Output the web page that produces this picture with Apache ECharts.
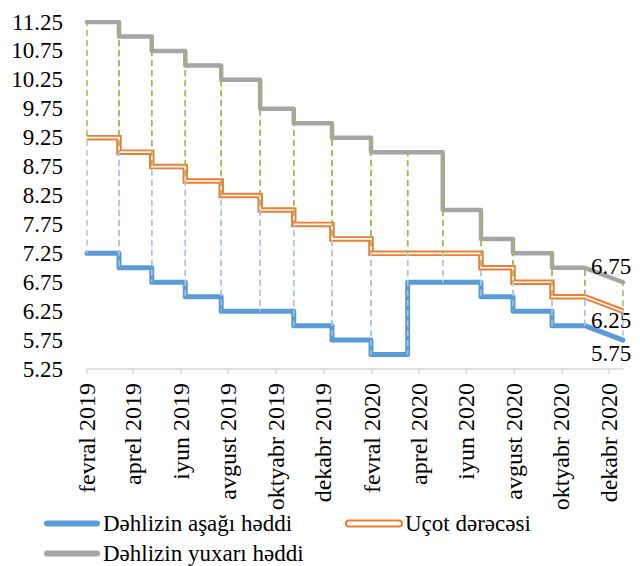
<!DOCTYPE html>
<html>
<head>
<meta charset="utf-8">
<script src="https://cdn.jsdelivr.net/npm/echarts@6/dist/echarts.min.js"></script>
<style>
  html, body { margin: 0; padding: 0; background: #fff; }
  #chart { width: 640px; height: 566px; }
</style>
</head>
<body>
<div id="chart"></div>
<script>
// Decision dates and corridor / policy rate values (%)
const decisionDates = ['2019-02-01', '2019-03-14', '2019-04-25', '2019-06-07', '2019-07-23', '2019-09-11',
  '2019-10-24', '2019-12-12', '2020-01-31', '2020-03-18', '2020-05-02', '2020-06-20', '2020-07-31',
  '2020-09-19', '2020-10-31', '2020-12-19'];
const upperBound = [11.25, 11.0, 10.75, 10.5, 10.25, 9.75, 9.5, 9.25, 9.0, 9.0, 8.0, 7.5, 7.25, 7.0, 7.0, 6.75];
const policyRate = [9.25, 9.0, 8.75, 8.5, 8.25, 8.0, 7.75, 7.5, 7.25, 7.25, 7.25, 7.0, 6.75, 6.5, 6.5, 6.25];
const lowerBound = [7.25, 7.0, 6.75, 6.5, 6.25, 6.25, 6.0, 5.75, 5.5, 6.75, 6.75, 6.5, 6.25, 6.0, 6.0, 5.75];

const seriesNames = ['Dəhlizin aşağı həddi', 'Uçot dərəcəsi', 'Dəhlizin yuxarı həddi'];

// X axis tick marks (every two months) and their labels
const xTickDates = ['2019-02-01', '2019-04-01', '2019-06-01', '2019-08-01', '2019-10-01', '2019-12-01',
  '2020-02-01', '2020-04-01', '2020-06-01', '2020-08-01', '2020-10-01', '2020-12-01'];
const xTickLabels = ['fevral 2019', 'aprel 2019', 'iyun 2019', 'avgust 2019', 'oktyabr 2019', 'dekabr 2019',
  'fevral 2020', 'aprel 2020', 'iyun 2020', 'avgust 2020', 'oktyabr 2020', 'dekabr 2020'];
// Y axis labels
const yTickValues = [5.25, 5.75, 6.25, 6.75, 7.25, 7.75, 8.25, 8.75, 9.25, 9.75, 10.25, 10.75, 11.25];

const FONT = 'Liberation Serif';
const BLUE = '#5B9BD5', ORANGE = '#ED7D31', GRAY = '#A5A5A5';

function parseDay(s) {
  const p = s.split('-').map(Number);
  return Date.UTC(p[0], p[1] - 1, p[2]);
}
const times = decisionDates.map(parseDay);
const tickTimes = xTickDates.map(parseDay);
const labelByTime = {};
tickTimes.forEach((t, i) => { labelByTime[t] = xTickLabels[i]; });

// Each decision holds the previous level until its date, then switches;
// the final point is joined directly to the one before it.
function stepIndexPairs() {
  const pairs = [];
  const n = times.length;
  for (let i = 0; i < n; i++) {
    if (i > 0 && i < n - 1) pairs.push([i, i - 1]);
    pairs.push([i, i]);
  }
  return pairs;
}
const pairs = stepIndexPairs();
const stepLine = vals => pairs.map(([ti, vi]) => [times[ti], vals[vi]]);
const dropData = pairs.map(([ti, vi]) => [times[ti], upperBound[vi], policyRate[vi], lowerBound[vi]]);

const chart = echarts.init(document.getElementById('chart'), null, { renderer: 'svg' });

const DASH = [6, 4];
const DASH_PERIOD = DASH[0] + DASH[1];

// Legend block under the axis: swatch + serif caption per series
function legendEntry(x, y, name, swatchStyle) {
  return {
    type: 'group', left: x, top: y,
    children: [
      { type: 'rect', shape: { x: 0, y: 8, width: 56, height: 6, r: 3 }, style: swatchStyle },
      { type: 'text', x: 59, y: 11, style: { text: name, fontFamily: FONT, fontSize: 23, fill: '#000', verticalAlign: 'middle' } }
    ]
  };
}

const option = {
  animation: false,
  grid: { left: 87, right: 17, top: 22, height: 347, containLabel: false },
  graphic: [
    legendEntry(44, 512, seriesNames[0], { fill: BLUE }),
    legendEntry(345, 512, seriesNames[1], { fill: '#fff', stroke: ORANGE, lineWidth: 2 }),
    legendEntry(44, 542, seriesNames[2], { fill: GRAY })
  ],
  xAxis: {
    type: 'value',
    min: times[0],
    max: times[times.length - 1],
    axisLine: { show: true, lineStyle: { color: '#D9D9D9', width: 1.5 } },
    axisTick: { show: true, length: 5, customValues: tickTimes, lineStyle: { color: '#D9D9D9', width: 1.5 } },
    axisLabel: {
      customValues: tickTimes,
      rotate: 90,
      margin: 14,
      fontFamily: FONT,
      fontSize: 24,
      color: '#000',
      formatter: v => labelByTime[v] || ''
    },
    splitLine: { show: false }
  },
  yAxis: {
    type: 'value',
    min: 5.25,
    max: 11.25,
    interval: 0.25,
    axisLine: { show: false },
    axisTick: { show: false },
    splitLine: { show: false },
    axisLabel: {
      margin: 24,
      fontFamily: FONT,
      fontSize: 23,
      color: '#000',
      formatter: v => yTickValues.some(t => Math.abs(t - v) < 1e-6) ? v.toFixed(2) : ''
    }
  },
  series: [
    {
      name: seriesNames[2],
      type: 'line',
      data: stepLine(upperBound),
      showSymbol: false,
      itemStyle: { color: GRAY },
      lineStyle: { color: GRAY, width: 4.5, join: 'round', cap: 'round' },
      endLabel: {
        show: true, offset: [-40, -16],
        fontFamily: FONT, fontSize: 23, color: '#000',
        formatter: p => p.value[1].toFixed(2)
      },
      z: 2
    },
    {
      name: seriesNames[1],
      type: 'line',
      data: stepLine(policyRate),
      showSymbol: false,
      itemStyle: { color: ORANGE },
      lineStyle: { color: ORANGE, width: 5.5, join: 'miter', cap: 'butt' },
      endLabel: {
        show: true, offset: [-40, 9],
        fontFamily: FONT, fontSize: 23, color: '#000',
        formatter: p => p.value[1].toFixed(2)
      },
      z: 2
    },
    {
      name: 'rateCore',
      type: 'line',
      data: stepLine(policyRate),
      showSymbol: false,
      silent: true,
      lineStyle: { color: '#FFFFFF', width: 1.6, join: 'miter', cap: 'butt' },
      z: 3
    },
    {
      name: seriesNames[0],
      type: 'line',
      data: stepLine(lowerBound),
      showSymbol: false,
      itemStyle: { color: BLUE },
      lineStyle: { color: BLUE, width: 5, join: 'round', cap: 'round' },
      endLabel: {
        show: true, offset: [-40, 13],
        fontFamily: FONT, fontSize: 23, color: '#000',
        formatter: p => p.value[1].toFixed(2)
      },
      z: 2
    },
    {
      // Dashed drop lines: upper bound -> policy rate, policy rate -> lower bound
      name: 'dropLines',
      type: 'custom',
      silent: true,
      z: 5,
      data: dropData,
      encode: { x: 0, y: [1, 2, 3] },
      renderItem: (params, api) => {
        const t = api.value(0);
        const pU = api.coord([t, api.value(1)]);
        const pR = api.coord([t, api.value(2)]);
        const pL = api.coord([t, api.value(3)]);
        const seg = (a, b, color) => ({
          type: 'line',
          shape: { x1: a[0], y1: a[1], x2: b[0], y2: b[1] },
          style: { stroke: color, lineWidth: 1.5, lineDash: DASH, lineDashOffset: a[1] % DASH_PERIOD }
        });
        return {
          type: 'group',
          children: [
            seg(pU, pR, '#9BBB59'),
            seg(pR, pL, '#A9C5E4')
          ]
        };
      }
    }
  ]
};

chart.setOption(option);
</script>
</body>
</html>
